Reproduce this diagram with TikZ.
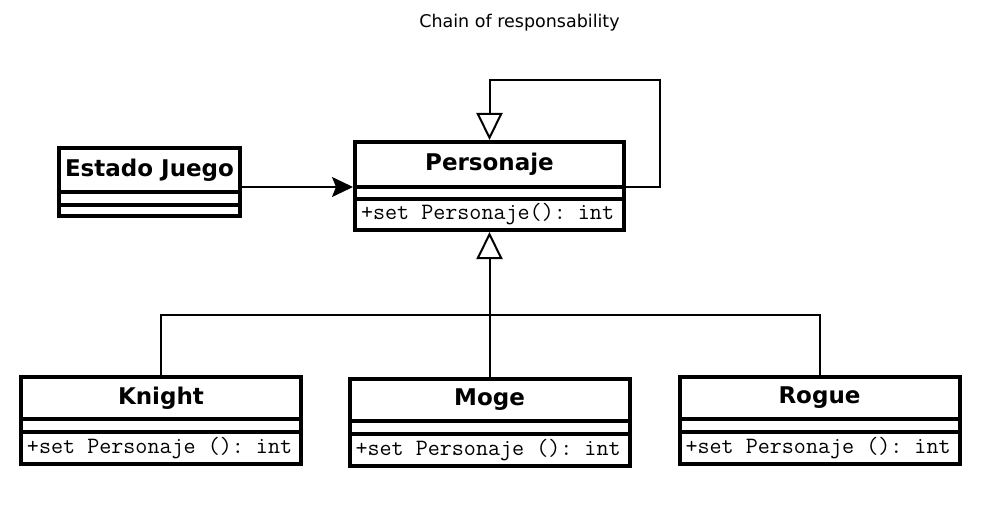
\documentclass[tikz,border=0pt]{standalone}
\usepackage{fontspec}
\setmainfont{DejaVu Sans}
\setmonofont{Latin Modern Mono}
\usetikzlibrary{arrows.meta,positioning}

\newcommand{\tts}{\char32\relax}

\tikzset{
  every node/.style={outer sep=0pt},
  title/.style={font=\fontsize{17.5}{20}\selectfont},
  classname/.style={draw,line width=4pt,inner sep=0pt,font=\fontsize{23}{28}\selectfont\bfseries},
  classpart/.style={draw,line width=4pt,inner sep=0pt,minimum height=13pt},
  classops/.style={draw,line width=4pt,inner xsep=6pt,inner ysep=0pt,align=left,font=\fontsize{23.4}{25}\selectfont\ttfamily},
  assoc/.style={line width=2pt,-{Stealth[length=21pt,width=20pt,inset=4pt]},shorten >=2pt},
  inherit/.style={line width=2pt,-{Triangle[open,length=27pt,width=26pt]},shorten >=2pt},
}

\begin{document}
\begin{tikzpicture}[x=1pt,y=-1pt]
    \useasboundingbox (0,0) rectangle (984,508);

    \node[title] (title) at (519.5,23) {Chain of responsability};

    % Personaje
    \node[classname,minimum width=269pt,minimum height=45pt,anchor=north] (pers-name) at (489.5,142) {Personaje};
    \node[classpart,minimum width=269pt,minimum height=12pt,below=0pt of pers-name] (pers-attr) {};
    \node[classops,text width=257pt,minimum height=31pt,below=0pt of pers-attr] (pers-ops) {+set\tts Personaje():\tts int};

    % Estado Juego
    \node[classname,minimum width=181pt,minimum height=44pt,anchor=north] (estado-name) at (149.5,148) {Estado Juego};
    \node[classpart,minimum width=181pt,below=0pt of estado-name] (estado-attr) {};
    \node[classpart,minimum width=181pt,minimum height=11pt,below=0pt of estado-attr] (estado-ops) {};

    % Subclasses
    \foreach \id/\x/\y/\name in {knight/161/377/Knight, moge/489.5/379/Moge, rogue/819.5/377/Rogue}
    {
        \node[classname,minimum width=280pt,minimum height=42pt,anchor=north] (\id-name) at (\x,\y) {\name};
        \node[classpart,minimum width=280pt,below=0pt of \id-name] (\id-attr) {};
        \node[classops,text width=268pt,minimum height=32pt,below=0pt of \id-attr] (\id-ops) {+set\tts Personaje\tts ():\tts int};
    }

    % Connectors
    \draw[assoc] (estado-name.east |- pers-name.south west) -- (pers-name.south west);
    \draw[inherit] (pers-name.south east) -- ++(36,0) -- ++(0,-107) -| (pers-name.north);

    \coordinate (bus) at (moge-name.north |- 0,315);
    \draw[inherit] (moge-name.north) -- (pers-ops.south);
    \draw[line width=2pt] (knight-name.north) |- (bus) -| (rogue-name.north);
\end{tikzpicture}
\end{document}
